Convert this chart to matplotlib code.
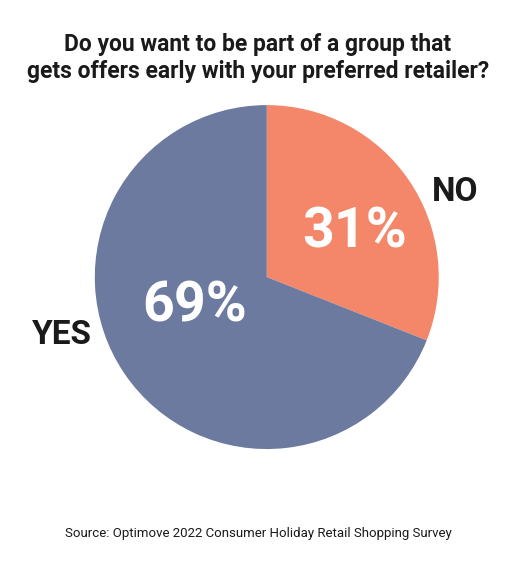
import matplotlib.pyplot as plt

labels = ['NO', 'YES']
values = [31, 69]
colors = ['#F4866A', '#6B7A9E']

plt.rcParams['font.family'] = ['Roboto', 'DejaVu Sans']

fig = plt.figure(figsize=(5.16, 5.62), dpi=100)
ax = fig.add_axes([0.517 - 0.3335, 0.507 - 0.306, 0.667, 0.612])
wedges, _ = ax.pie(values, colors=colors, startangle=90, counterclock=False,
                   radius=1.0)
ax.set_aspect('equal')
ax.set_xlim(-1, 1)
ax.set_ylim(-1, 1)

# percentages inside slices
ax.text(0.51, 0.26, '%d%%' % values[0], color='white', fontsize=40,
        fontweight='bold', ha='center', va='center')
ax.text(-0.42, -0.17, '%d%%' % values[1], color='white', fontsize=40,
        fontweight='bold', ha='center', va='center')

# outside labels
fig.text(455 / 516, 1 - 192 / 562, labels[0], fontsize=24, fontweight='bold',
         ha='center', va='center', color='#1a1a1a')
fig.text(62 / 516, 1 - 335 / 562, labels[1], fontsize=24, fontweight='bold',
         ha='center', va='center', color='#1a1a1a')

fig.text(0.5, 1 - 58 / 562,
         'Do you want to be part of a group that\ngets offers early with your preferred retailer?',
         fontsize=16.5, fontweight='bold', ha='center', va='center',
         color='#1a1a1a', linespacing=1.2)
fig.text(0.5, 1 - 533 / 562, 'Source: Optimove 2022 Consumer Holiday Retail Shopping Survey',
         fontsize=9.5, ha='center', va='center', color='#1a1a1a')

plt.savefig('out.png', dpi=100)
